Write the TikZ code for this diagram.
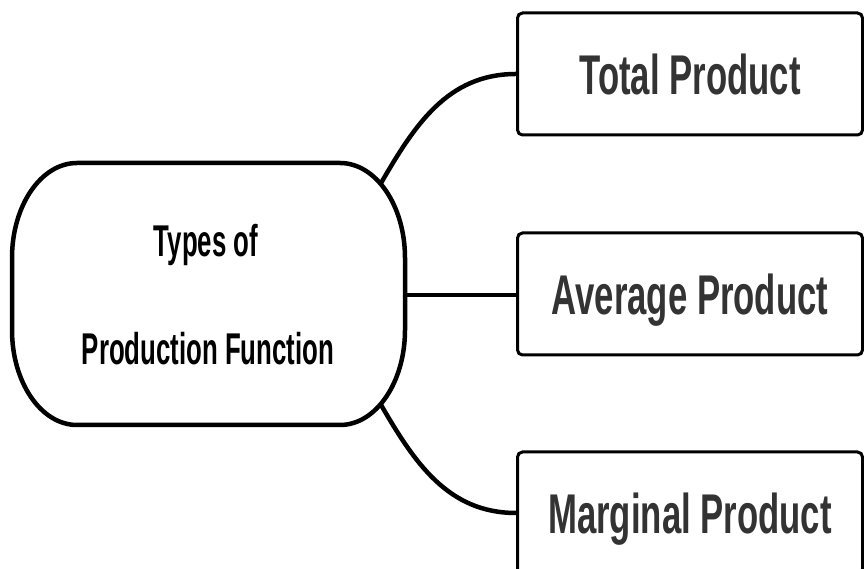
\documentclass[tikz,border=0pt]{standalone}
\usepackage{fontspec}
\newfontfamily\leftfont[FakeStretch=0.58]{Liberation Sans Bold}
\newfontfamily\rightfont[FakeStretch=0.62]{Liberation Sans Bold}
\definecolor{txtgray}{HTML}{333333}
\begin{document}
\begin{tikzpicture}[x=1pt,y=1pt,
  prodbox/.style={draw=black, line width=3pt, rounded corners=5pt, fill=white,
    minimum width=345pt, minimum height=122pt, inner sep=0pt, text depth=0pt,
    text=txtgray, font=\rightfont\fontsize{56}{60}\selectfont},
  lefttext/.style={anchor=base, inner sep=0pt, text=black,
    font=\leftfont\fontsize{44.5}{50}\selectfont},
  link/.style={draw=black, line width=4.5pt}]
\useasboundingbox (0,0) rectangle (864,569);
% central stadium shape
\draw[line width=4.5pt, fill=white] (77,406) -- (340,406)
  arc[start angle=90, end angle=0, x radius=65, y radius=95] -- (405,239)
  arc[start angle=0, end angle=-90, x radius=65, y radius=95] -- (77,144)
  arc[start angle=-90, end angle=-180, x radius=65, y radius=95] -- (12,311)
  arc[start angle=180, end angle=90, x radius=65, y radius=95] -- cycle;
\coordinate (jtop) at (380.5,385);
\coordinate (jmid) at (405,274);
\coordinate (jbot) at (380.5,165);
\node[lefttext] (t1) at (206,312) {Types of};
\node[lefttext] (t2) at (208,204) {Production Function};
% boxes
\node[prodbox] (tp) at (690,495) {Total Product};
\node[prodbox] (ap) at (690,275) {Average Product};
\node[prodbox] (mp) at (690,56) {Marginal Product};
% connectors
\draw[link] (jtop) to[out=60, in=180] (tp.west);
\draw[link] (jmid) -- (ap.west |- jmid);
\draw[link] (jbot) to[out=-60, in=180] (mp.west);
\end{tikzpicture}
\end{document}
